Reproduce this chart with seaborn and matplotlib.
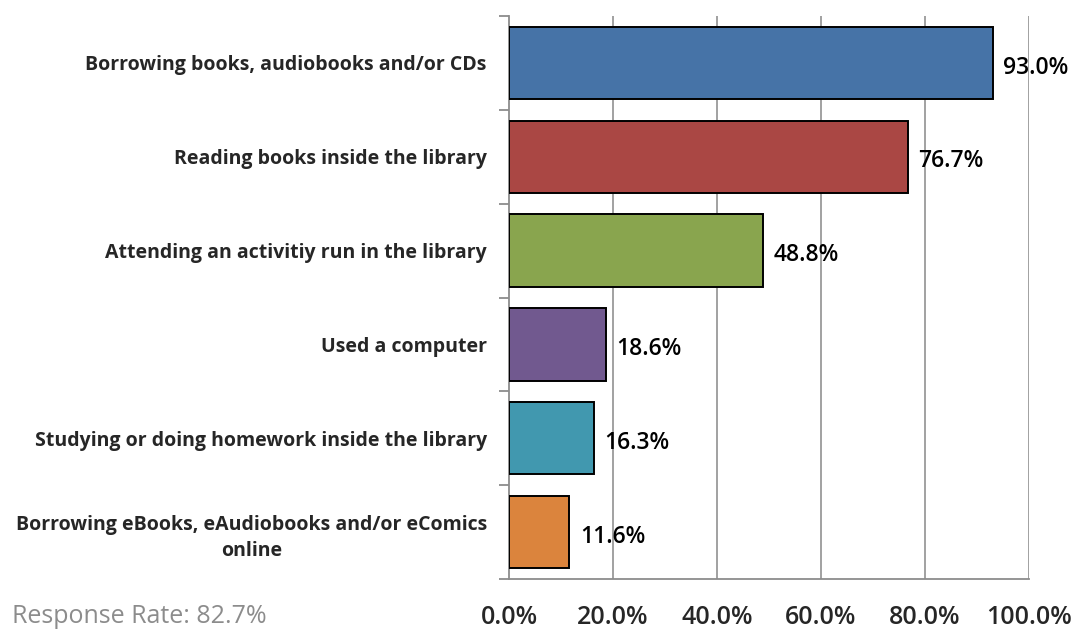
import matplotlib
matplotlib.use("Agg")
import matplotlib.pyplot as plt
import seaborn as sns
import pandas as pd
import numpy as np
from matplotlib.ticker import FixedLocator, PercentFormatter

# Data
activities = [
    "Borrowing books, audiobooks and/or CDs",
    "Reading books inside the library",
    "Attending an activitiy run in the library",
    "Used a computer",
    "Studying or doing homework inside the library",
    "Borrowing eBooks, eAudiobooks and/or eComics\nonline",
]
shares = [93.0, 76.7, 48.8, 18.6, 16.3, 11.6]
bar_colors = ["#4673A7", "#AA4744", "#89A54E", "#71598F", "#4198AF", "#DB843D"]
x_ticks = [0, 20, 40, 60, 80, 100]
response_note = "Response Rate: 82.7%"

df = pd.DataFrame({"activity": activities, "share": shares})

sns.set_style("white")
plt.rcParams["font.family"] = ["Open Sans", "DejaVu Sans"]

fig = plt.figure(figsize=(10.84, 6.31), dpi=100)
ax = fig.add_axes([0.4696, 0.0824, 0.4797, 0.8922])

sns.barplot(data=df, y="activity", x="share", hue="activity",
            palette=bar_colors, saturation=1, legend=False, orient="h",
            width=0.77, edgecolor="black", linewidth=1.4, ax=ax, zorder=3)

ax.set_xlim(0, 100)
ax.set_ylim(len(activities) - 0.5, -0.5)
ax.set_xlabel("")
ax.set_ylabel("")

# vertical gridlines
for t in x_ticks[1:]:
    ax.axvline(t, color="#9a9a9a", linewidth=1.3, zorder=1)

ax.xaxis.set_major_locator(FixedLocator(x_ticks))
ax.xaxis.set_major_formatter(PercentFormatter(decimals=1))
ax.tick_params(axis="x", direction="out", length=8, width=1.3, color="#8c8c8c",
               labelsize=18, pad=11)
for lab in ax.get_xticklabels():
    lab.set_fontweight("semibold")

# category labels without tick marks, boundary ticks on the left spine
ax.tick_params(axis="y", which="major", length=0, labelsize=14, pad=16)
for lab in ax.get_yticklabels():
    lab.set_fontweight("bold")
    lab.set_multialignment("center")
    lab.set_linespacing(1.4)
ax.yaxis.set_minor_locator(FixedLocator(np.arange(-0.5, len(activities), 1.0)))
ax.tick_params(axis="y", which="minor", direction="out", length=7, width=1.3,
               color="#8c8c8c", left=True)

for side in ["top", "right"]:
    ax.spines[side].set_visible(False)
for side in ["left", "bottom"]:
    ax.spines[side].set_color("#8c8c8c")
    ax.spines[side].set_linewidth(1.3)

# value labels
for i, v in enumerate(shares):
    ax.text(v + 2.0, i + 0.05, f"{v:.1f}%", va="center", ha="left",
            fontsize=16.5, fontweight="semibold", color="black", zorder=4)

fig.text(12 / 1084, 1 - 623 / 631, response_note, fontsize=18, color="#8c8c8c",
         ha="left", va="baseline")

fig.savefig("out.png", dpi=100)
